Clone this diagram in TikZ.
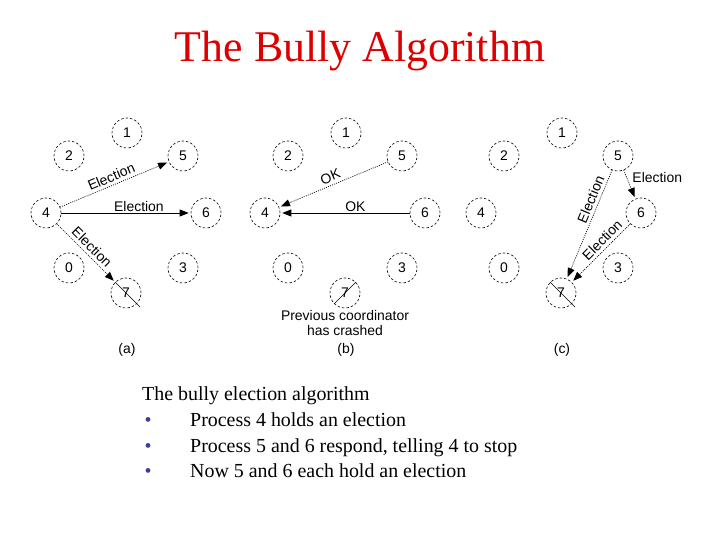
\documentclass[tikz,border=0pt]{standalone}
\usepackage{fontspec}
\setmainfont{Liberation Serif}
\newfontfamily\arialf{Liberation Sans}
\usetikzlibrary{arrows.meta,calc}
\definecolor{titlered}{RGB}{220,0,0}
\definecolor{bulletblue}{RGB}{60,60,160}
\tikzset{
 proc/.style={circle, draw, line width=0.6bp, dash pattern=on 2.5bp off 2bp, minimum size=30bp, inner sep=0pt, font=\arialf\fontsize{14}{16}\selectfont},
 conn/.style={line width=0.7bp, -{Triangle[length=9bp,width=7bp]}, shorten >=2bp},
 dots/.style={dash pattern=on 1bp off 1.2bp},
 lbl/.style={font=\arialf\fontsize{14}{16}\selectfont, inner sep=1.5bp},
 slbl/.style={lbl, sloped, above=1.5bp},
 cross/.style={line width=0.6bp},
 bodytext/.style={font=\fontsize{20}{24}\selectfont, inner sep=0pt, anchor=base west},
 bul/.style={font=\fontsize{20}{24}\selectfont, text=bulletblue, inner sep=0pt, anchor=base},
}
\newcommand{\procset}[2]{%
  \foreach \n/\x/\y in {1/127/133,2/69/156,5/183/156,4/46/213,6/206/213,0/69/268,3/183/268,7/126/293}
    \node[proc] (#1\n) at (\x+#2,\y) {\n};
}
\begin{document}
\begin{tikzpicture}[x=1bp,y=-1bp]
\useasboundingbox (0,0) rectangle (720,540);
\fill[white] (0,0) rectangle (720,540);

\node[font=\fontsize{44}{48}\selectfont, text=titlered, anchor=base, inner sep=0pt] (title) at (360,62) {The Bully Algorithm};

% panel (a)
\procset{a}{0}
\draw[conn, dots] (a4) -- node[slbl, pos=0.5] (la45) {Election} (a5);
\draw[conn] (a4) -- node[lbl, above, pos=0.6] (la46) {Election} (a6);
\draw[conn, dots] (a4) -- node[slbl, pos=0.5] (la47) {Election} (a7);
\draw[cross] (a7.135) -- ($(a7.center)!1.3!(a7.-45)$);
\node[lbl] (capa) at (127,350) {(a)};

% panel (b)
\procset{b}{219}
\draw[conn, dots] (b5) -- node[slbl, pos=0.5] (lb54) {OK} (b4);
\draw[conn] (b6) -- node[lbl, above, pos=0.42] (lb64) {OK} (b4);
\draw[cross] (b7.45) -- (b7.225);
\node[lbl, align=center, inner sep=0pt] (crash) at (345,323) {Previous coordinator\\has crashed};
\node[lbl] (capb) at (346,350) {(b)};

% panel (c)
\procset{c}{435}
\draw[conn, dots] (c5) -- node[lbl, anchor=west, pos=0.25, xshift=4bp] (lc56) {Election} (c6);
\draw[conn, dots] (c5) -- node[slbl, pos=0.3] (lc57) {Election} (c7);
\draw[conn, dots] (c6) -- node[slbl, pos=0.38] (lc67) {Election} (c7);
\draw[cross] (c7.135) -- ($(c7.center)!1.3!(c7.-45)$);
\node[lbl] (capc) at (562,350) {(c)};

% text
\node[bodytext] (t0) at (142,400) {The bully election algorithm};
\node[bul] (b1) at (148,426) {\textbullet};
\node[bodytext] (t1) at (190,426) {Process 4 holds an election};
\node[bul] (b2) at (148,452) {\textbullet};
\node[bodytext] (t2) at (190,452) {Process 5 and 6 respond, telling 4 to stop};
\node[bul] (b3) at (148,477) {\textbullet};
\node[bodytext] (t3) at (190,477) {Now 5 and 6 each hold an election};
\end{tikzpicture}
\end{document}
